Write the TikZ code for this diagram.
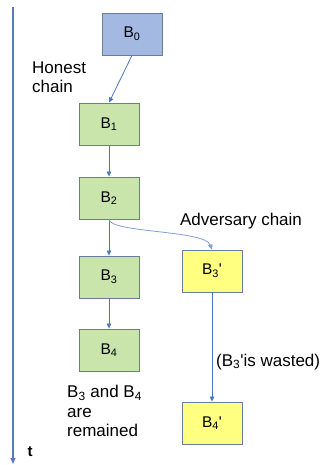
\documentclass[tikz,border=0pt]{standalone}
\usepackage{fontspec}
\setmainfont{Liberation Sans}
\usetikzlibrary{arrows.meta}
\definecolor{genfill}{HTML}{A3B9E2}
\definecolor{honfill}{HTML}{C9E5AB}
\definecolor{advfill}{HTML}{FFFF80}
\definecolor{boxline}{HTML}{6A7E9C}
\definecolor{linkblue}{HTML}{4A74C4}
\definecolor{axisblue}{HTML}{5A7AB8}
\tikzset{
  block/.style={draw=boxline, line width=0.9pt, minimum width=60pt, minimum height=42pt,
    inner sep=0pt, font=\fontsize{15.5}{18}\selectfont},
  genesis/.style={block, fill=genfill},
  honest/.style={block, fill=honfill},
  adversary/.style={block, fill=advfill},
  link/.style={draw=linkblue, line width=0.8pt, -{Triangle[length=5pt,width=4.5pt]}},
  softlink/.style={link, draw=linkblue!70},
  caption/.style={font=\fontsize{17}{19.5}\selectfont, inner sep=0pt, align=left},
}
\newcommand{\blk}[1]{B\textsubscript{#1}}
\begin{document}
\begin{tikzpicture}[x=1pt,y=1pt]
  \useasboundingbox (0,0) rectangle (322,-465);

  % time axis
  \coordinate (ttop) at (13,-7);
  \coordinate (tbot) at (13,-464);
  \draw[draw=axisblue, line width=1.4pt, -{Triangle[length=6pt,width=5pt]}] (ttop) -- (tbot);
  \node[font=\fontsize{15}{17}\selectfont\bfseries, inner sep=0pt] (tlab) at (30,-452) {t};

  % blocks
  \node[genesis]   (b0)  at (132,-34)  {\blk{0}};
  \node[honest]    (b1)  at (109,-124) {\blk{1}};
  \node[honest]    (b2)  at (109,-198) {\blk{2}};
  \node[honest]    (b3)  at (109,-277) {\blk{3}};
  \node[honest]    (b4)  at (109,-350) {\blk{4}};
  \node[adversary] (b3p) at (212,-271) {\blk{3}\textquotesingle};
  \node[adversary] (b4p) at (212,-423) {\blk{4}\textquotesingle};

  % links
  \draw[link] (b0.south) -- (b1.north);
  \draw[link] (b1) -- (b2);
  \draw[link] (b2) -- (b3);
  \draw[link] (b3) -- (b4);
  \draw[link] (b3p) -- (b4p);
  \draw[softlink] (b2.south) .. controls (111,-233) and (205,-230) .. (b3p.north);

  % captions
  \node[caption, anchor=west] (hon) at (32,-77) {Honest\\chain};
  \node[caption] (adv) at (241,-221) {Adversary chain};
  \node[caption, anchor=west] (waste) at (216,-362) {(\blk{3}\textquotesingle is wasted)};
  \node[caption, anchor=west] (kept) at (67,-411) {\blk{3} and \blk{4}\\are\\remained};
\end{tikzpicture}
\end{document}
